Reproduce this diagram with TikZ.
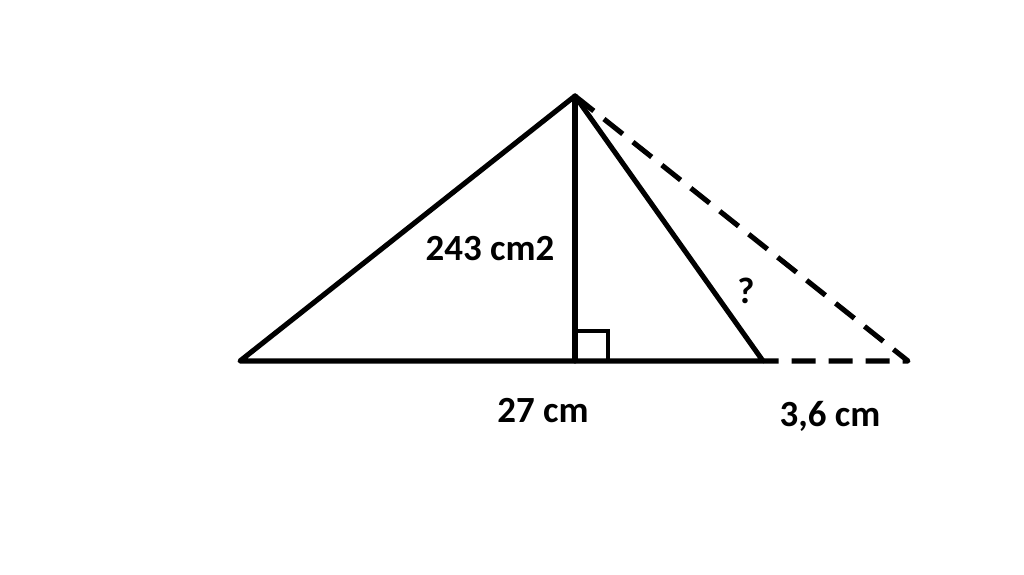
\documentclass[tikz,border=0pt]{standalone}
\usepackage{fontspec}
\setmainfont{Carlito}
\usetikzlibrary{calc}
\tikzset{
  edge/.style={line width=1.45pt, line cap=round, line join=round},
  dashedge/.style={edge, line cap=butt, dash pattern=on 0.24cm off 0.13cm},
  lbl/.style={font=\fontsize{10.5}{12}\selectfont\bfseries, inner sep=0pt},
}
\begin{document}
\begin{tikzpicture}
\useasboundingbox (0,0) rectangle (10.24,5.75);
\coordinate (A) at (5.75,4.79); %頂点
\coordinate (B) at (2.40,2.14); %左端
\coordinate (H) at (5.75,2.14); %垂線の足
\coordinate (C) at (7.63,2.14);
\coordinate (D) at (9.08,2.14);

\draw[edge] (B) -- (C) -- (A) -- cycle;
\draw[edge] (A) -- (H);

%点線部分
\draw[dashedge] (A) -- (D) -- (C);

%直角記号
\draw[line width=1pt] ($(H)+(0,0.30)$) -- ($(H)+(0.33,0.30)$) -- ($(H)+(0.33,0)$);

\node[lbl] (area) at (4.90,3.26) {243 cm2};
\node[lbl] (q) at (7.46,2.84) {?};
\node[lbl] (base) at (5.43,1.64) {27 cm};
\node[lbl] (ext) at (8.30,1.59) {3,6 cm};
\end{tikzpicture}
\end{document}
